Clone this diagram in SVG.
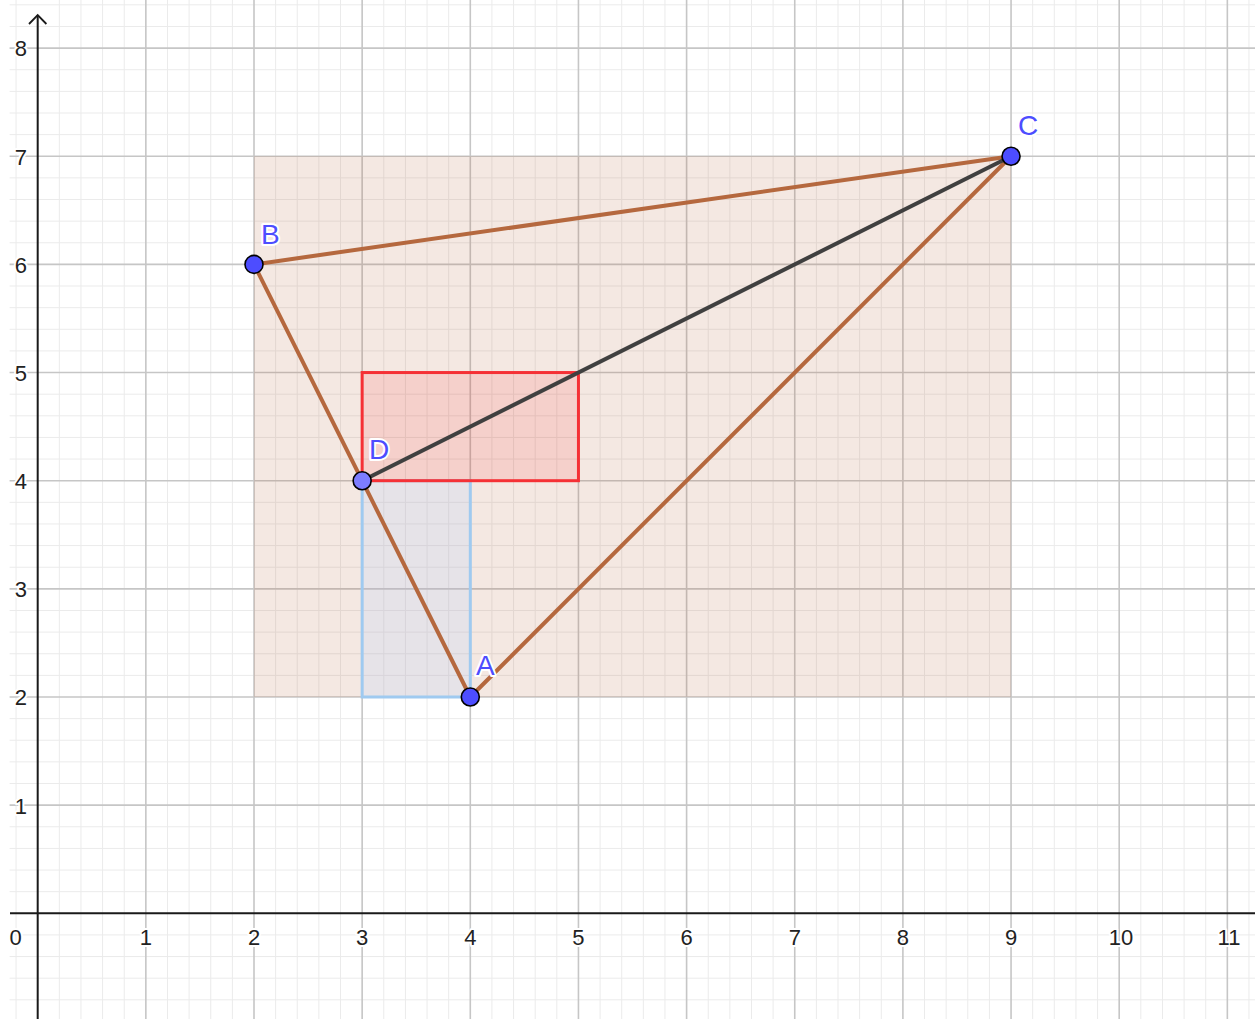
<svg xmlns="http://www.w3.org/2000/svg" width="1255" height="1019" viewBox="0 0 1255 1019">
<style>
.minor{fill:none;stroke:#ebebeb;stroke-width:1}
.major{fill:none;stroke:#c6c6c6;stroke-width:1.6}
.tick{font-family:"Liberation Sans",Arial,sans-serif;font-size:22px;fill:#222;stroke:#fff;stroke-width:4;paint-order:stroke;stroke-linejoin:round}
.side{fill:none;stroke:#b5683e;stroke-width:4;stroke-linecap:round}
.pt{stroke:#000;stroke-width:1.6}
.lbl{font-family:"Liberation Sans",Arial,sans-serif;font-size:28px;fill:#4d4dff;stroke:#fff;stroke-width:4;paint-order:stroke;stroke-linejoin:round}
</style>
<rect width="1255" height="1019" fill="#fff"/>
<g id="grid" transform="matrix(108.15,0,0,-108.15,37.7,913.3)">
<path class="minor" vector-effect="non-scaling-stroke" d="M-0.2-1V8.5M.2-1V8.5M.4-1V8.5M.6-1V8.5M.8-1V8.5M1.2-1V8.5M1.4-1V8.5M1.6-1V8.5M1.8-1V8.5M2.2-1V8.5M2.4-1V8.5M2.6-1V8.5M2.8-1V8.5M3.2-1V8.5M3.4-1V8.5M3.6-1V8.5M3.8-1V8.5M4.2-1V8.5M4.4-1V8.5M4.6-1V8.5M4.8-1V8.5M5.2-1V8.5M5.4-1V8.5M5.6-1V8.5M5.8-1V8.5M6.2-1V8.5M6.4-1V8.5M6.6-1V8.5M6.8-1V8.5M7.2-1V8.5M7.4-1V8.5M7.6-1V8.5M7.8-1V8.5M8.2-1V8.5M8.4-1V8.5M8.6-1V8.5M8.8-1V8.5M9.2-1V8.5M9.4-1V8.5M9.6-1V8.5M9.8-1V8.5M10.2-1V8.5M10.4-1V8.5M10.6-1V8.5M10.8-1V8.5M11.2-1V8.5"/>
<path class="minor" vector-effect="non-scaling-stroke" d="M-0.26-0.8H11.7M-0.26-0.6H11.7M-0.26-0.4H11.7M-0.26-0.2H11.7M-0.26 .2H11.7M-0.26 .4H11.7M-0.26 .6H11.7M-0.26 .8H11.7M-0.26 1.2H11.7M-0.26 1.4H11.7M-0.26 1.6H11.7M-0.26 1.8H11.7M-0.26 2.2H11.7M-0.26 2.4H11.7M-0.26 2.6H11.7M-0.26 2.8H11.7M-0.26 3.2H11.7M-0.26 3.4H11.7M-0.26 3.6H11.7M-0.26 3.8H11.7M-0.26 4.2H11.7M-0.26 4.4H11.7M-0.26 4.6H11.7M-0.26 4.8H11.7M-0.26 5.2H11.7M-0.26 5.4H11.7M-0.26 5.6H11.7M-0.26 5.8H11.7M-0.26 6.2H11.7M-0.26 6.4H11.7M-0.26 6.6H11.7M-0.26 6.8H11.7M-0.26 7.2H11.7M-0.26 7.4H11.7M-0.26 7.6H11.7M-0.26 7.8H11.7M-0.26 8.2H11.7M-0.26 8.4H11.7"/>
<path class="major" vector-effect="non-scaling-stroke" d="M1-1V8.5M2-1V8.5M3-1V8.5M4-1V8.5M5-1V8.5M6-1V8.5M7-1V8.5M8-1V8.5M9-1V8.5M10-1V8.5M11-1V8.5M-0.26 1H11.7M-0.26 2H11.7M-0.26 3H11.7M-0.26 4H11.7M-0.26 5H11.7M-0.26 6H11.7M-0.26 7H11.7M-0.26 8H11.7"/>
</g>
<g id="regions">
<rect id="bbox" x="254" y="156.25" width="757.05" height="540.75" fill="#b5683e" fill-opacity="0.15"/>
<rect id="blueRect" x="362.15" y="480.7" width="108.15" height="216.3" fill="#b8d0ff" fill-opacity="0.22" stroke="#9fcaf0" stroke-width="3"/>
<rect id="redRect" x="362.15" y="372.55" width="216.3" height="108.15" fill="#ff0000" fill-opacity="0.1" stroke="#f53035" stroke-width="3"/>
</g>
<g id="axes" stroke="#1a1a1a" stroke-width="2" fill="none">
<path d="M10 913.3H1255"/>
<path d="M37.7 1019V15"/>
<path d="M29 24L37.7 15L46.4 24" stroke-width="1.8"/>
</g>
<g id="ticks" class="tick">
<text x="15.5" y="945" text-anchor="middle">0</text>
<text x="145.85" y="945" text-anchor="middle">1</text>
<text x="254" y="945" text-anchor="middle">2</text>
<text x="362.15" y="945" text-anchor="middle">3</text>
<text x="470.3" y="945" text-anchor="middle">4</text>
<text x="578.45" y="945" text-anchor="middle">5</text>
<text x="686.6" y="945" text-anchor="middle">6</text>
<text x="794.75" y="945" text-anchor="middle">7</text>
<text x="902.9" y="945" text-anchor="middle">8</text>
<text x="1011.05" y="945" text-anchor="middle">9</text>
<text x="1121" y="945" text-anchor="middle">10</text>
<text x="1229" y="945" text-anchor="middle">11</text>
<text x="27" y="813.5" text-anchor="end">1</text>
<text x="27" y="705.3" text-anchor="end">2</text>
<text x="27" y="597.2" text-anchor="end">3</text>
<text x="27" y="489" text-anchor="end">4</text>
<text x="27" y="380.9" text-anchor="end">5</text>
<text x="27" y="272.7" text-anchor="end">6</text>
<text x="27" y="164.6" text-anchor="end">7</text>
<text x="27" y="56.4" text-anchor="end">8</text>
</g>
<g id="connectors">
<path id="segAB" class="side" d="M470.3 697L254 264.4"/>
<path id="segBC" class="side" d="M254 264.4L1011.05 156.25"/>
<path id="segCA" class="side" d="M1011.05 156.25L470.3 697"/>
<path id="segDC" d="M362.15 480.7L1011.05 156.25" stroke="#404040" stroke-width="4" stroke-linecap="round"/>
</g>
<g id="nodeA"><circle class="pt" cx="470.3" cy="697" r="9" fill="#4d4dff"/><text class="lbl" x="476" y="675">A</text></g>
<g id="nodeB"><circle class="pt" cx="254" cy="264.4" r="9" fill="#4d4dff"/><text class="lbl" x="261" y="244">B</text></g>
<g id="nodeC"><circle class="pt" cx="1011.05" cy="156.25" r="9" fill="#4d4dff"/><text class="lbl" x="1018" y="135">C</text></g>
<g id="nodeD"><circle class="pt" cx="362.15" cy="480.7" r="9" fill="#7d7dff"/><text class="lbl" x="369" y="459">D</text></g>
</svg>
